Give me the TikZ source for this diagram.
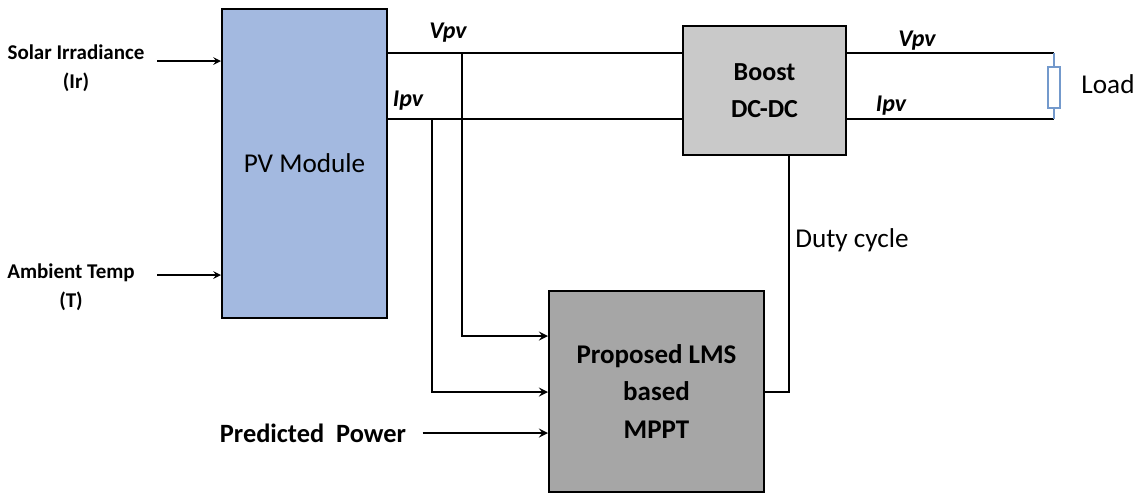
\documentclass[tikz,border=0pt]{standalone}
\usepackage{fontspec}
\setmainfont{Carlito}
\usetikzlibrary{arrows,positioning}
\definecolor{pvblue}{HTML}{A3B9E0}
\definecolor{boostgray}{HTML}{C9C9C9}
\definecolor{mpptgray}{HTML}{A6A6A6}
\definecolor{loadblue}{HTML}{7399CC}

\begin{document}
\begin{tikzpicture}[
    x=0.5pt, y=-0.5pt,
    block/.style={rectangle, draw, line width=1pt, inner sep=0pt, align=center},
    inlabel/.style={font=\bfseries\fontsize{10.5}{14.5}\selectfont, align=center, inner sep=0pt},
    sig/.style={font=\bfseries\itshape\fontsize{12}{14}\selectfont, inner sep=0pt},
    wire/.style={line width=1pt},
    lead/.style={draw=loadblue, line width=0.6pt},
    arrow/.style={->, >=stealth, line width=0.7pt}
]
    \useasboundingbox (0,0) rectangle (1146,494);

    \node[block, fill=pvblue, minimum width=82.5pt, minimum height=154.5pt, font=\fontsize{13.6}{16}\selectfont] (pv) at (304.5,163) {PV Module};
    \node[block, fill=boostgray, minimum width=81.5pt, minimum height=64.5pt, font=\bfseries\fontsize{13}{18.5}\selectfont] (boost) at (764.5,90.5) {Boost\\DC-DC};
    \node[block, fill=mpptgray, minimum width=107.5pt, minimum height=100.5pt, font=\bfseries\fontsize{13.5}{18.75}\selectfont] (mppt) at (656.5,391.5) {Proposed LMS\\based\\MPPT};
    \node[rectangle, draw=loadblue, line width=0.6pt, minimum width=6pt, minimum height=20.5pt, inner sep=0pt] (load) at (1054,87.5) {};

    \node[inlabel] (sol) at (76,68.5) {Solar Irradiance\\(Ir)};
    \node[inlabel] (amb) at (71,287) {Ambient Temp\\(T)};
    \node[inlabel, font=\bfseries\fontsize{13.2}{16}\selectfont] (pred) at (313,433) {Predicted\ \ Power};
    \node[font=\fontsize{13.6}{16}\selectfont, inner sep=0pt] (duty) at (852,240) {Duty cycle};
    \node[font=\fontsize{13.6}{16}\selectfont, inner sep=0pt] (loadlbl) at (1108,84) {Load};

    \node[sig] (vpv) at (448,33) {Vpv};
    \node[sig] (ipv) at (408,101) {Ipv};
    \node[sig] (vout) at (917,41) {Vpv};
    \node[sig] (iout) at (891,106) {Ipv};

    \coordinate (irin) at (157,61);
    \coordinate (tin) at (157,275);
    \coordinate (vtap) at (462,53);
    \coordinate (itap) at (432,119);

    \draw[arrow] (irin) -- (irin -| pv.west);
    \draw[arrow] (tin) -- (tin -| pv.west);
    \draw[wire] (pv.east |- vtap) -- (boost.west |- vtap);
    \draw[wire] (pv.east |- itap) -- (boost.west |- itap);
    \draw[wire] (boost.east |- vtap) -- (load.north |- vtap);
    \draw[wire] (boost.east |- itap) -- (load.south |- itap);
    \draw[lead] (load.north |- vtap) -- (load.north);
    \draw[lead] (load.south |- itap) -- (load.south);
    \draw[arrow, line width=1pt] (vtap) |- (mppt.west |- 0,336);
    \draw[arrow, line width=1pt] (itap) |- (mppt.west |- 0,392);
    \draw[arrow, line width=1pt] ([xshift=8pt]pred.east) -- (pred -| mppt.west);
    \draw[wire] (mppt.east |- 0,392) -| (boost.south -| 789,0);
\end{tikzpicture}
\end{document}
